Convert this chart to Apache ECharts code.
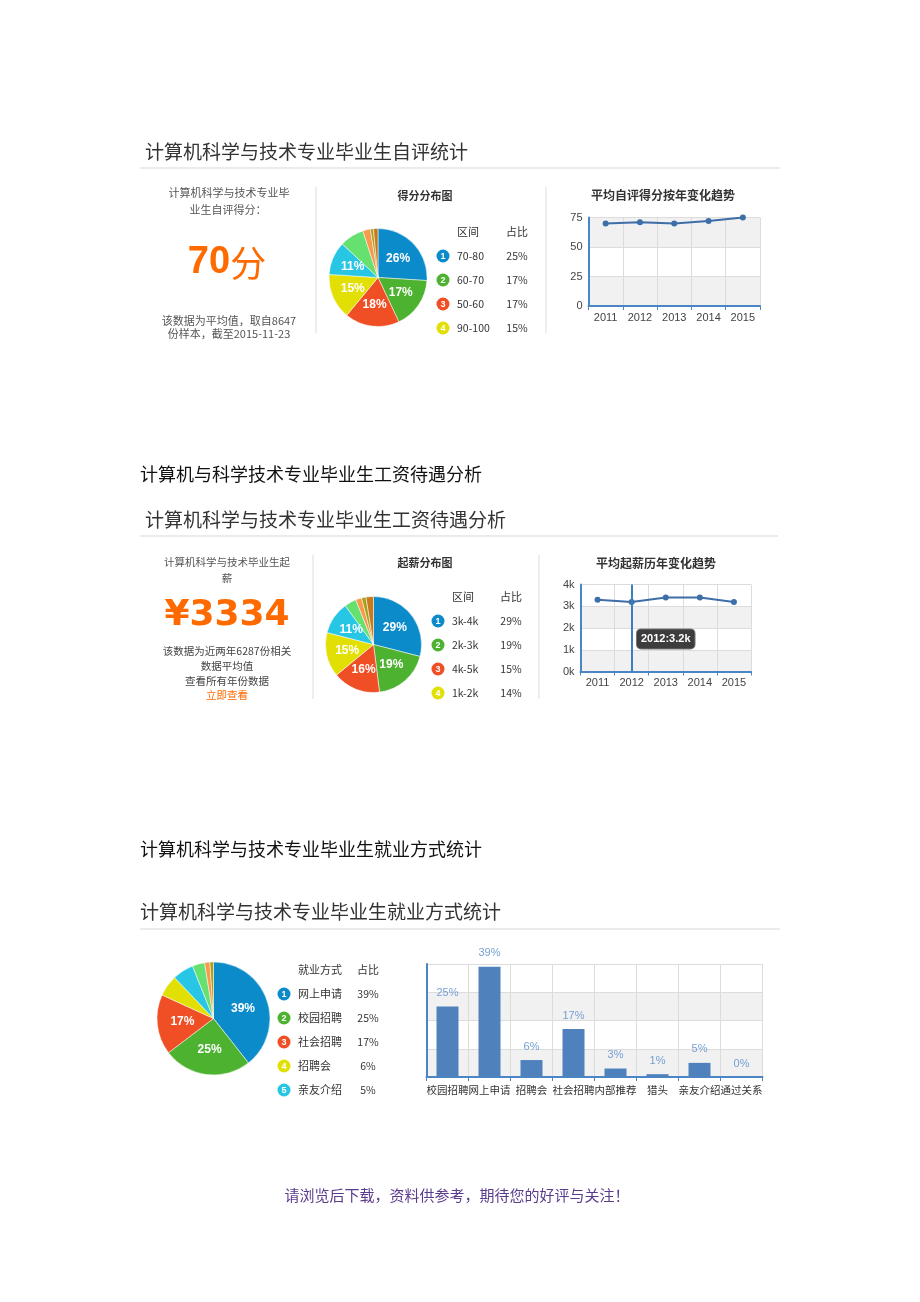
<!DOCTYPE html>
<html><head><meta charset="utf-8">
<script src="https://cdn.jsdelivr.net/npm/echarts@6/dist/echarts.min.js"></script>
<style>html,body{margin:0;padding:0;background:#fff}#c{width:920px;height:1302px}</style>
</head><body><div id="c"></div>
<script>
// ---------- data ----------
const sliceColors = ['#0c8bca','#4db22f','#f04e25','#e2df05','#27c6e5','#66e06f','#f8994d','#a5a21a','#c97a1f'];
const scoreSlices = [26,17,18,15,11,8,2.5,1,1.5];
const scoreLegendRanges = ['70-80','60-70','50-60','90-100'];
const scoreLegendShares = ['25%','17%','17%','15%'];
const years = ['2011','2012','2013','2014','2015'];
const scoreTrend = [70,71,70,72,75];
const salarySlices = [29,19,16,15,11,4,2,1.5,2.5];
const salaryLegendRanges = ['3k-4k','2k-3k','4k-5k','1k-2k'];
const salaryLegendShares = ['29%','19%','15%','14%'];
const salaryTrend = [3.3,3.2,3.4,3.4,3.2];
const salaryTipIndex = 1;
const jobSlices = [39,25,17,6,6,3.5,1.5,1];
const jobLegendNames = ['网上申请','校园招聘','社会招聘','招聘会','亲友介绍'];
const jobLegendShares = ['39%','25%','17%','6%','5%'];
const jobCategories = ['校园招聘','网上申请','招聘会','社会招聘','内部推荐','猎头','亲友介绍','通过关系'];
const jobBarValues = [25,39,6,17,3,1,5,0];

// ---------- helpers ----------
const CJK = '"Noto Sans CJK SC", sans-serif';
const LAT = '"Liberation Sans", Arial, sans-serif';
const AXIS_BLUE = '#4a86c5';
const g = [];
function txt(x, y, text, size, color, o) {
  o = o || {};
  const al = o.align || 'center';
  g.push({type:'text', z:100, silent:true, style:{x:x, y:y, text:text, fill:color,
    font:(o.weight||'normal') + ' ' + size + 'px ' + (o.family||CJK),
    textAlign:al, align:al, textVerticalAlign:'middle', verticalAlign:'middle'}});
}
function line(x1, y1, x2, y2, color, w) {
  g.push({type:'line', z:90, silent:true, shape:{x1:x1,y1:y1,x2:x2,y2:y2}, style:{stroke:color, lineWidth:w||1}});
}
function badge(cx, cy, n, color) {
  g.push({type:'circle', z:100, silent:true, shape:{cx:cx, cy:cy, r:6.5}, style:{fill:color}});
  txt(cx, cy + 0.5, String(n), 9, '#fff', {weight:'bold', family:LAT});
}
function legendBlock(x0, headX1, headX2, headY, rowYs, head1, head2, labels, shares, labelSize) {
  txt(headX1, headY, head1, 11, '#333');
  txt(headX2, headY, head2, 11, '#333');
  labels.forEach(function(l, i) {
    badge(x0, rowYs[i], i + 1, sliceColors[i]);
    txt(x0 + 14, rowYs[i], l, labelSize, '#333', {align:'left'});
    txt(headX2, rowYs[i], shares[i], 10.5, '#333');
  });
}
function pie(center, radius, values) {
  return {type:'pie', center:center, radius:radius, startAngle:90, clockwise:true,
    animation:false, silent:true,
    data: values.map(function(v, i){ return {value:v, itemStyle:{color:sliceColors[i]}, label:{show: v >= 10}}; }),
    label:{position:'inner', formatter:'{c}%', color:'#fff', fontSize:12, fontWeight:'bold', fontFamily:LAT, textBorderWidth:0},
    labelLine:{show:false},
    itemStyle:{borderColor:'#fff', borderWidth:0.5}};
}
function catAxis(gi, data, labelOpts) {
  return {gridIndex:gi, type:'category', data:data, boundaryGap:true,
    axisLine:{lineStyle:{color:AXIS_BLUE, width:2}},
    axisTick:{show:true, length:4, lineStyle:{color:AXIS_BLUE}},
    axisLabel:Object.assign({color:'#444', fontSize:11, fontFamily:LAT, margin:6}, labelOpts||{}),
    splitLine:{show:true, lineStyle:{color:'#dcdcdc'}}};
}
function valAxis(gi, max, interval, labelOpts) {
  return {gridIndex:gi, type:'value', min:0, max:max, interval:interval,
    axisLine:{show:true, lineStyle:{color:AXIS_BLUE, width:2}},
    axisTick:{show:false},
    axisLabel:Object.assign({color:'#444', fontSize:11, fontFamily:LAT, margin:6}, labelOpts||{}),
    splitLine:{lineStyle:{color:'#dcdcdc'}},
    splitArea:{show:true, areaStyle:{color:['#f1f1f1','#ffffff']}}};
}

// ---------- section 1 ----------
txt(145, 152, '计算机科学与技术专业毕业生自评统计', 19, '#333', {align:'left'});
line(140, 168, 780, 168, '#e4e4e4', 1.5);
txt(229, 193, '计算机科学与技术专业毕', 11, '#555');
txt(228, 210, '业生自评得分：', 11, '#555');
g.push({type:'text', z:100, silent:true, style:{x:227, y:263, text:'{a|70}{b|分}',
  textAlign:'center', align:'center', textVerticalAlign:'middle', verticalAlign:'middle',
  rich:{a:{fontSize:38, fontWeight:'bold', fontFamily:LAT, fill:'#ff6a00', color:'#ff6a00'},
        b:{fontSize:36, fontFamily:CJK, fill:'#ff6a00', color:'#ff6a00'}}}});
txt(229, 321, '该数据为平均值，取自8647', 11, '#555');
txt(229, 334, '份样本，截至2015-11-23', 11, '#555');
line(316, 187, 316, 333, '#e8e8e8', 1.5);
line(546, 187, 546, 333, '#e8e8e8', 1.5);
txt(425, 196, '得分分布图', 11, '#333', {weight:'bold'});
txt(663, 195, '平均自评得分按年变化趋势', 12, '#333', {weight:'bold'});
legendBlock(443, 468, 517, 232, [256,280,304,328], '区间', '占比', scoreLegendRanges, scoreLegendShares, 10.5);

// ---------- section 2 ----------
txt(140, 474, '计算机与科学技术专业毕业生工资待遇分析', 18, '#111', {align:'left'});
txt(145, 520, '计算机科学与技术专业毕业生工资待遇分析', 19, '#333', {align:'left'});
line(140, 536, 778, 536, '#e4e4e4', 1.5);
txt(227, 562, '计算机科学与技术毕业生起', 10.5, '#555');
txt(227, 578, '薪', 10.5, '#555');
txt(227, 616, '¥3334', 36, '#ff6a00', {weight:'bold', family:'"DejaVu Sans", sans-serif'});
txt(227, 651, '该数据为近两年6287份相关', 10.5, '#444');
txt(227, 666, '数据平均值', 10.5, '#444');
txt(227, 681, '查看所有年份数据', 10.5, '#444');
txt(227, 695, '立即查看', 10.5, '#ff6a00');
line(313, 555, 313, 699, '#e8e8e8', 1.5);
line(539, 555, 539, 699, '#e8e8e8', 1.5);
txt(425, 563, '起薪分布图', 11, '#333', {weight:'bold'});
txt(656, 563, '平均起薪历年变化趋势', 12, '#333', {weight:'bold'});
legendBlock(438, 463, 511, 597, [621,645,669,693], '区间', '占比', salaryLegendRanges, salaryLegendShares, 10.5);

// ---------- section 3 ----------
txt(140, 849, '计算机科学与技术专业毕业生就业方式统计', 18, '#111', {align:'left'});
txt(140, 912, '计算机科学与技术专业毕业生就业方式统计', 19, '#333', {align:'left'});
line(140, 929, 780, 929, '#e4e4e4', 1.5);
legendBlock(284, 320, 368, 970, [994,1018,1042,1066,1090], '就业方式', '占比', jobLegendNames, jobLegendShares, 11);

// ---------- footer ----------
txt(457, 1195, '请浏览后下载，资料供参考，期待您的好评与关注！', 15, '#5b3b8c');

// ---------- chart ----------
const chart = echarts.init(document.getElementById('c'), null, {renderer:'canvas'});
chart.setOption({
  backgroundColor:'#ffffff',
  animation:false,
  grid:[
    {left:588.5, top:217.5, width:171.5, height:88.5},
    {left:580.5, top:584.5, width:170.5, height:87},
    {left:426.5, top:964, width:336, height:113}
  ],
  xAxis:[
    catAxis(0, years),
    catAxis(1, years),
    catAxis(2, jobCategories, {interval:0, fontFamily:CJK, fontSize:10.5, color:'#333', margin:8})
  ],
  yAxis:[
    valAxis(0, 75, 25),
    valAxis(1, 4, 1, {formatter:'{value}k'}),
    valAxis(2, 40, 10, {show:false})
  ],
  series:[
    pie([378, 277.5], 49, scoreSlices),
    pie([373.5, 644.5], 48, salarySlices),
    pie([213.5, 1018.5], 56.5, jobSlices),
    {type:'line', xAxisIndex:0, yAxisIndex:0, data:scoreTrend, silent:true,
      lineStyle:{color:'#3e6ea8', width:2}, itemStyle:{color:'#3e6ea8'},
      symbol:'circle', symbolSize:6, showAllSymbol:true},
    {type:'line', xAxisIndex:1, yAxisIndex:1, data:salaryTrend, silent:true,
      lineStyle:{color:'#3e6ea8', width:2}, itemStyle:{color:'#3e6ea8'},
      symbol:'circle', symbolSize:6, showAllSymbol:true,
      markLine:{silent:true, symbol:['none','none'], animation:false,
        lineStyle:{color:'#3a7fc0', width:2, type:'solid'}, label:{show:false},
        data:[{xAxis:years[salaryTipIndex]}]},
      markPoint:{silent:true, animation:false, symbol:'rect', symbolSize:1,
        itemStyle:{color:'rgba(0,0,0,0)'},
        label:{show:true, position:'inside', color:'#fff', fontSize:11, fontWeight:'bold', fontFamily:LAT,
          backgroundColor:'#3d3d3d', borderRadius:4, padding:[4,4], borderColor:'#777', borderWidth:1,
          formatter: years[salaryTipIndex] + ':' + salaryTrend[salaryTipIndex] + 'k'},
        data:[{coord:[years[salaryTipIndex + 1], 1.5]}]}},
    {type:'bar', xAxisIndex:2, yAxisIndex:2, data:jobBarValues, silent:true, barWidth:22,
      itemStyle:{color:'#4f81bd'},
      label:{show:true, position:'top', distance:8, formatter:'{c}%', color:'#76a0d2', fontSize:11, fontFamily:LAT}}
  ],
  graphic:g
});
</script>
</body></html>
